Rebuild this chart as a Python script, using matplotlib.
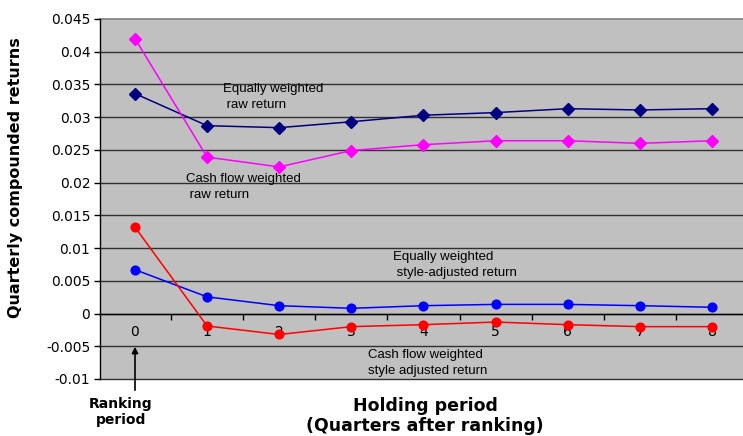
import matplotlib
matplotlib.use("Agg")
import matplotlib.pyplot as plt
import numpy as np

plt.rcParams['font.family'] = ['Liberation Sans', 'DejaVu Sans']

quarters = [0, 1, 2, 3, 4, 5, 6, 7, 8]
quarter_labels = ["0", "1", "2", "3", "4", "5", "6", "7", "8"]
ew_raw = [0.0336, 0.0287, 0.0284, 0.0293, 0.0303, 0.0307, 0.0313, 0.0311, 0.0313]
cf_raw = [0.0420, 0.0239, 0.0224, 0.0249, 0.0258, 0.0264, 0.0264, 0.0260, 0.0264]
ew_style = [0.0067, 0.00255, 0.0012, 0.0008, 0.0012, 0.0014, 0.0014, 0.0012, 0.00096]
cf_style = [0.0132, -0.0019, -0.0032, -0.0020, -0.0017, -0.0013, -0.0017, -0.0020, -0.0020]
y_ticks = [-0.01, -0.005, 0, 0.005, 0.01, 0.015, 0.02, 0.025, 0.03, 0.035, 0.04, 0.045]
y_tick_labels = ["-0.01", "-0.005", "0", "0.005", "0.01", "0.015", "0.02", "0.025",
                 "0.03", "0.035", "0.04", "0.045"]

W, H = 743, 436
fig = plt.figure(figsize=(W / 100, H / 100), dpi=100)
ax = fig.add_axes([100 / W, 1 - 379 / H, 643 / W, 360 / H])
ax.set_facecolor('#C0C0C0')

ax.set_xlim(-0.485, 8.43)
ax.set_ylim(-0.01, 0.045)

for yv in y_ticks:
    c = '#808080' if yv == 0.045 else '#303030'
    ax.axhline(yv, color=c, lw=1.2 if yv == 0.045 else 1.0, zorder=1, clip_on=False)

ax.plot(quarters, ew_raw, color='#000080', marker='D', markersize=6, lw=1.1, zorder=3)
ax.plot(quarters, cf_raw, color='#FF00FF', marker='D', markersize=6, lw=1.1, zorder=3)
ax.plot(quarters, ew_style, color='#0000FF', marker='o', markersize=6.3, lw=1.1, zorder=3)
ax.plot(quarters, cf_style, color='#FF0000', marker='o', markersize=6.3, lw=1.1, zorder=3)

for s in ['top', 'right']:
    ax.spines[s].set_visible(False)
ax.spines['left'].set_color('black')
ax.spines['left'].set_linewidth(1.0)
ax.spines['bottom'].set_position(('data', 0))
ax.spines['bottom'].set_color('black')
ax.spines['bottom'].set_linewidth(1.0)

ax.set_yticks(y_ticks)
ax.set_yticklabels(y_tick_labels, fontsize=10, family='DejaVu Sans')
ax.tick_params(axis='y', direction='out', length=4, width=1, pad=3, colors='black')

ax.set_xticks(quarters)
ax.set_xticklabels(quarter_labels, fontsize=10, family='DejaVu Sans')
ax.set_xticks(np.arange(0.5, 8, 1), minor=True)
ax.tick_params(axis='x', which='major', length=0, pad=8)
ax.tick_params(axis='x', which='minor', direction='out', length=4, width=1)

def ftext(x, y, s, **kw):
    fig.text(x / W, 1 - y / H, s, **kw)

ann = dict(fontsize=9.5, va='center', ha='left', linespacing=1.35)
ftext(223, 97, "Equally weighted\n raw return", **ann)
ftext(186, 187, "Cash flow weighted\n raw return", **ann)
ftext(393, 265, "Equally weighted\n style-adjusted return", **ann)
ftext(368, 363, "Cash flow weighted\nstyle adjusted return", **ann)

ftext(16, 178, "Quarterly compounded returns", fontsize=11.5, fontweight='bold',
      family='DejaVu Sans', rotation=90, va='center', ha='center')
ftext(425, 416, "Holding period\n(Quarters after ranking)", fontsize=12.5, fontweight='bold',
      family='DejaVu Sans', va='center', ha='center', linespacing=1.2)
ftext(121, 412, "Ranking\nperiod", fontsize=10, fontweight='bold', family='DejaVu Sans',
      va='center', ha='center', linespacing=1.25)

fig.add_artist(matplotlib.patches.FancyArrowPatch(
    (135 / W, 1 - 393 / H), (135 / W, 1 - 344 / H), transform=fig.transFigure,
    arrowstyle='-|>', mutation_scale=9, color='black', lw=1.2))

fig.savefig('out.png', dpi=100)
